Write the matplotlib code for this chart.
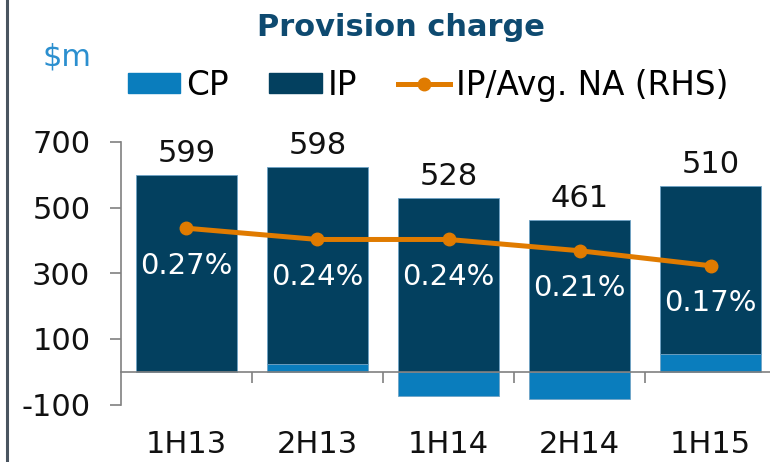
import numpy as np
import matplotlib
matplotlib.use('Agg')
import matplotlib.pyplot as plt
from matplotlib.lines import Line2D
from matplotlib.patches import Patch

# data
periods = ['1H13', '2H13', '1H14', '2H14', '1H15']
ip = [599, 598, 528, 461, 510]          # $m, labelled above bars
cp = [0, 25, -73, -83, 55]              # $m, collective provision
ip_to_na = [0.27, 0.24, 0.24, 0.21, 0.17]  # %, right-hand scale

IP_COLOR = '#03405F'
CP_COLOR = '#0A7DBD'
LINE_COLOR = '#E07B00'
GREY = '#808080'

plt.rcParams['font.family'] = ['DejaVu Sans']
plt.rcParams['axes.unicode_minus'] = False

fig = plt.figure(figsize=(7.7, 4.62), dpi=100)
ax = fig.add_axes([0.157, 0.124, 0.851, 0.569])

x = np.arange(len(periods))
cp = np.array(cp)
ip = np.array(ip)
# positive CP sits under IP, negative CP hangs below zero
ip_base = np.where(cp > 0, cp, 0)
width = 0.77
ax.bar(x, cp, width, color=CP_COLOR, edgecolor='#6fa3c6', linewidth=0.6, zorder=2)
ax.bar(x, ip, width, bottom=ip_base, color=IP_COLOR, edgecolor='#6fa3c6', linewidth=0.6, zorder=2)

for xi, top, val in zip(x, ip + ip_base, ip):
    ax.annotate(f'{val}', (xi, top), xytext=(0, 5), textcoords='offset points',
                ha='center', va='bottom', fontsize=22, color='#111111')

ax.set_xlim(-0.5, 4.5)
ax.set_ylim(-100, 700)
ax.set_yticks([-100, 100, 300, 500, 700])
ax.tick_params(axis='y', length=8, width=1.2, color=GREY, pad=14, labelsize=22,
               labelcolor='#111111')

for s in ['top', 'right']:
    ax.spines[s].set_visible(False)
ax.spines['left'].set_color(GREY)
ax.spines['left'].set_linewidth(1.2)
ax.spines['bottom'].set_position(('data', 0))
ax.spines['bottom'].set_color(GREY)
ax.spines['bottom'].set_linewidth(1.2)

ax.set_xticks(x)
ax.set_xticklabels(periods)
ax.set_xticks(x[:-1] + 0.5, minor=True)
ax.tick_params(axis='x', which='major', length=0, pad=42, labelsize=22, labelcolor='#111111')
ax.tick_params(axis='x', which='minor', length=8, width=1.2, color=GREY)

# right-hand scale, hidden
ax2 = ax.twinx()
ax2.set_ylim(-0.2, 0.5)
ax2.axis('off')
ax2.plot(x, ip_to_na, color=LINE_COLOR, lw=3.6, marker='o', ms=9, zorder=3)
for xi, v in zip(x, ip_to_na):
    ax2.annotate(f'{v:.2f}%', (xi, v), xytext=(0, -27), textcoords='offset points',
                 ha='center', va='center', fontsize=21, color='white')

handles = [Patch(color=CP_COLOR), Patch(color=IP_COLOR),
           Line2D([], [], color=LINE_COLOR, lw=3.6, marker='o', ms=9)]
fig.legend(handles, ['CP', 'IP', 'IP/Avg. NA (RHS)'], ncol=3, loc='center',
           bbox_to_anchor=(0.556, 0.816), frameon=False, fontsize=23.5,
           handlelength=1.6, handleheight=0.55, handletextpad=0.18,
           columnspacing=1.26, borderpad=0, borderaxespad=0)

fig.text(0.521, 0.94, 'Provision charge', ha='center', va='center',
         fontsize=22, fontweight='bold', color='#0E4A70')
fig.text(0.087, 0.877, '$m', ha='center', va='center', fontsize=22, color='#2B8FCF')

fig.add_artist(Line2D([0.0085, 0.0085], [0, 1], color='#4A5560', lw=2.2))

fig.savefig('out.png', dpi=100)
